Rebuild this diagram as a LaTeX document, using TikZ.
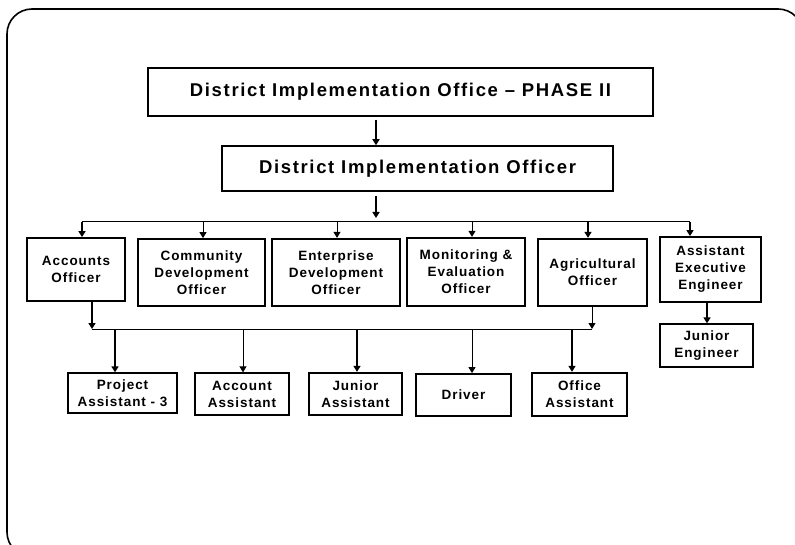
\documentclass[tikz,border=0pt]{standalone}
\usepackage{fontspec}
\setmainfont{Liberation Sans}
\newfontfamily\boxfont{Liberation Sans}[LetterSpace=7]
\newfontfamily\headfont{Liberation Sans}[LetterSpace=9]
\usetikzlibrary{arrows.meta,shadows}
\begin{document}
\begin{tikzpicture}[x=1pt,y=-1pt,
  box/.style={draw, fill=white, line width=1.8pt, inner sep=0pt, align=center,
    font=\boxfont\bfseries\fontsize{13.5}{17}\selectfont,
    drop shadow={shadow xshift=1.3pt, shadow yshift=-1.3pt, opacity=1, fill=black}},
  lightbox/.style={box, line width=1.3pt},
  heavybox/.style={box, line width=2.3pt},
  headbox/.style={box, line width=1.5pt, font=\headfont\bfseries\fontsize{18.5}{22}\selectfont},
  thk/.style={line width=2.4pt, -{Triangle[width=7pt,length=6pt]}},
  thn/.style={line width=1pt, -{Triangle[width=7pt,length=6pt]}},
  busline/.style={line width=1pt}]
\clip (0,0) rectangle (795,545);
\fill[white] (0,0) rectangle (795,545);
% outer frame
\draw[line width=1.6pt, rounded corners=25pt] (7,9) rectangle (803,557);

% nodes
\node[headbox, minimum width=505pt, minimum height=48pt] (title) at (400.5,92) {District Implementation Office – PHASE II};
\node[headbox, minimum width=391pt, minimum height=45pt] (dio) at (417.5,168.5) {District Implementation Officer};

\node[box, minimum width=98pt, minimum height=63pt] (acc) at (76,269.5) {Accounts\\Officer};
\node[box, minimum width=127pt, minimum height=67pt] (cdo) at (201.5,272.5) {Community\\Development\\Officer};
\node[heavybox, minimum width=128pt, minimum height=67pt] (edo) at (336,272.5) {Enterprise\\Development\\Officer};
\node[heavybox, minimum width=118pt, minimum height=68pt] (meo) at (466,272) {Monitoring \&\\Evaluation\\Officer};
\node[heavybox, minimum width=109pt, minimum height=67pt] (ago) at (592.5,272.5) {Agricultural\\Officer};
\node[box, minimum width=101pt, minimum height=65pt] (aee) at (710.5,269.5) {Assistant\\Executive\\Engineer};
\node[lightbox, minimum width=93pt, minimum height=43pt] (je) at (706.5,345.5) {Junior\\Engineer};

\node[lightbox, minimum width=109pt, minimum height=40pt] (pa) at (122.5,393) {Project\\Assistant - 3};
\node[lightbox, minimum width=94pt, minimum height=42pt] (aa) at (242,394) {Account\\Assistant};
\node[heavybox, minimum width=93pt, minimum height=42pt] (ja) at (355.5,394) {Junior\\Assistant};
\node[box, minimum width=95pt, minimum height=42pt] (drv) at (463.5,395) {Driver};
\node[heavybox, minimum width=95pt, minimum height=43pt] (oa) at (579.5,394.5) {Office\\Assistant};

% guide coordinates
\coordinate (m0) at (376,222);
\coordinate (b1) at (82,222);
\coordinate (b2) at (203,222);
\coordinate (b3) at (337,222);
\coordinate (b4) at (472,222);
\coordinate (b5) at (588,222);
\coordinate (b6) at (690,222);
\coordinate (c0) at (92,329);
\coordinate (c6) at (592,329);
\coordinate (c1) at (115,329);
\coordinate (c2) at (243,329);
\coordinate (c3) at (357,329);
\coordinate (c4) at (472,329);
\coordinate (c5) at (572,329);
\coordinate (e0) at (707,0);

% connectors
\draw[thk, shorten <=3pt] (title.south -| m0) -- (dio.north -| m0);
\draw[thk, shorten <=4pt, shorten >=4pt] (dio.south -| m0) -- (m0);
\draw[busline] (b1) -- (b6);
\draw[thk] (b1) -- (b1 |- acc.north);
\draw[thn] (b2) -- (b2 |- cdo.north);
\draw[thn] (b3) -- (b3 |- edo.north);
\draw[thn] (b4) -- (b4 |- meo.north);
\draw[thk] (b5) -- (b5 |- ago.north);
\draw[thk] (b6) -- (b6 |- aee.north);

\draw[thk] (acc.south -| c0) -- (c0);
\draw[thn] (ago.south -| c6) -- (c6);
\draw[busline] (c0) -- (c6);
\draw[thk] (c1) -- (c1 |- pa.north);
\draw[thn] (c2) -- (c2 |- aa.north);
\draw[thk] (c3) -- (c3 |- ja.north);
\draw[thn] (c4) -- (c4 |- drv.north);
\draw[thk] (c5) -- (c5 |- oa.north);

\draw[thk] (aee.south -| e0) -- (je.north -| e0);
\end{tikzpicture}
\end{document}
